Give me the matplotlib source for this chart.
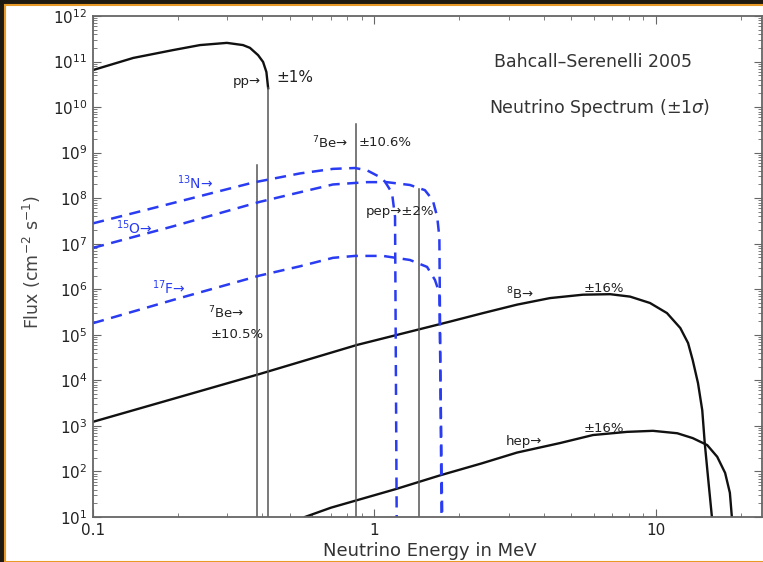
import numpy as np
import matplotlib
matplotlib.use('Agg')
import matplotlib.pyplot as plt
from matplotlib.patches import Rectangle
from matplotlib.ticker import FixedLocator, FixedFormatter, LogLocator, NullFormatter

# solar neutrino spectra (energy in MeV, flux in cm^-2 s^-1)
pp_E = [0.1, 0.139, 0.192, 0.240, 0.299, 0.341, 0.361, 0.386, 0.402, 0.413, 0.419]
pp_F = [6.5e10, 1.2e11, 1.78e11, 2.3e11, 2.57e11, 2.3e11, 2.0e11, 1.38e11, 9.8e10, 5.9e10, 2.6e10]

n13_E = [0.1, 0.192, 0.37, 0.544, 0.712, 0.852, 0.940, 1.046, 1.09, 1.154, 1.183, 1.199]
n13_F = [2.8e7, 7.8e7, 2.2e8, 3.5e8, 4.4e8, 4.6e8, 4.1e8, 2.9e8, 2.3e8, 1.3e8, 3.9e7, 10]

o15_E = [0.1, 0.192, 0.391, 0.544, 0.712, 0.940, 1.105, 1.336, 1.51, 1.61, 1.67, 1.70, 1.73]
o15_F = [8.1e6, 2.4e7, 8.3e7, 1.35e8, 2.0e8, 2.25e8, 2.25e8, 1.95e8, 1.5e8, 9.1e7, 3.9e7, 1.4e7, 10]

f17_E = [0.1, 0.192, 0.391, 0.544, 0.712, 0.852, 1.072, 1.336, 1.537, 1.64, 1.70, 1.74]
f17_F = [1.8e5, 5.8e5, 2.0e6, 3.2e6, 4.9e6, 5.4e6, 5.4e6, 4.4e6, 3.1e6, 1.6e6, 8.3e5, 10]

b8_E = [0.1, 0.2, 0.391, 0.867, 1.854, 2.43, 3.21, 4.20, 5.50, 6.87, 8.09, 9.52, 10.94,
        12.2, 13.0, 13.5, 14.1, 14.6, 14.9, 15.3, 15.8]
b8_F = [1.23e3, 4.2e3, 1.38e4, 6.0e4, 1.95e5, 3.0e5, 4.6e5, 6.4e5, 7.6e5, 7.8e5, 6.9e5, 5.0e5,
        3.0e5, 1.41e5, 6.6e4, 2.8e4, 8.7e3, 2.2e3, 4.2e2, 76, 10]

hep_E = [0.566, 0.7, 0.859, 1.19, 1.72, 2.4, 3.21, 4.56, 5.97, 7.89, 9.75, 11.9, 13.5, 15.2,
         16.5, 17.6, 18.3, 18.6]
hep_F = [10, 16, 23, 41, 83, 150, 260, 420, 630, 740, 780, 690, 540, 380, 210, 93, 34, 10]

# line sources (and the pp cut-off) drawn as vertical lines
line_E = [0.384, 0.42, 0.862, 1.442]
line_top = [5.4e8, 2.6e10, 4.3e9, 1.6e8]

fig = plt.figure(figsize=(7.63, 5.62), dpi=100)
fig.patch.set_facecolor('#1e1a12')
fig.patches.append(Rectangle((5 / 763, 0), 1, (562 - 5) / 562, transform=fig.transFigure,
                             facecolor='white', edgecolor='#e89a28', lw=1.5, zorder=-10))

ax = fig.add_axes([93 / 763, 45 / 562, 669 / 763, 501 / 562])
ax.set_zorder(2)
ax.set_xscale('log')
ax.set_yscale('log')
ax.set_xlim(0.1, 23.8)
ax.set_ylim(10, 1e12)

black = '#111111'
blue = '#2a3cf2'
dash = (0, (4.5, 3))

ax.plot(pp_E, pp_F, color=black, lw=1.7, solid_joinstyle='round')
ax.plot(b8_E, b8_F, color=black, lw=1.7, solid_joinstyle='round')
ax.plot(hep_E, hep_F, color=black, lw=1.7, solid_joinstyle='round')
for e, top in zip(line_E, line_top):
    ax.plot([e, e], [10, top], color='#555555', lw=1.1)

ax.plot(n13_E, n13_F, color=blue, lw=1.8, ls=dash)
ax.plot(o15_E, o15_F, color=blue, lw=1.8, ls=dash)
ax.plot(f17_E, f17_F, color=blue, lw=1.8, ls=dash)

# axes styling
for s in ax.spines.values():
    s.set_color('#666666')
    s.set_linewidth(1.3)
ax.tick_params(which='both', direction='in', top=True, right=True, colors='#666666',
               labelcolor='#222222')
ax.tick_params(which='major', length=6, labelsize=11, pad=4)
ax.tick_params(which='minor', length=3)
ax.xaxis.set_major_locator(FixedLocator([0.1, 1, 10]))
ax.xaxis.set_major_formatter(FixedFormatter(['0.1', '1', '10']))
ax.xaxis.set_minor_locator(LogLocator(base=10, subs=np.arange(2, 10)))
ax.xaxis.set_minor_formatter(NullFormatter())
ax.yaxis.set_major_locator(FixedLocator([10.0 ** k for k in range(1, 13)]))
ax.yaxis.set_minor_locator(LogLocator(base=10, subs=np.arange(2, 10), numticks=30))
ax.yaxis.set_minor_formatter(NullFormatter())

fig.text(32 / 763, 1 - 262 / 562, 'Flux (cm$^{-2}$ s$^{-1}$)', rotation=90,
         ha='center', va='center', fontsize=12.5, color='#444444')
fig.text(430 / 763, 1 - 551 / 562, 'Neutrino Energy in MeV', ha='center', va='center',
         fontsize=13, color='#333333')

fig.text(593 / 763, 1 - 62 / 562, 'Bahcall\u2013Serenelli 2005', ha='center', va='center',
         fontsize=12.5, color='#333333')
fig.text(600 / 763, 1 - 108 / 562, 'Neutrino Spectrum (\u00b11$\\sigma$)', ha='center',
         va='center', fontsize=12.5, color='#333333')

def lab(x, y, s, color='#222222', size=9.5, ha='left'):
    fig.text(x / 763, 1 - y / 562, s, ha=ha, va='center', fontsize=size, color=color,
             zorder=5)

lab(233, 82, 'pp\u2192')
lab(276, 77, '\u00b11%', size=11)
lab(312, 143, '$^{7}$Be\u2192')
lab(359, 143, '\u00b110.6%')
lab(177, 183, '$^{13}$N\u2192', color=blue, size=10)
lab(116, 228, '$^{15}$O\u2192', color=blue, size=10)
lab(152, 288, '$^{17}$F\u2192', color=blue, size=10)
lab(208, 313, '$^{7}$Be\u2192')
lab(211, 334, '\u00b110.5%')
lab(366, 212, 'pep\u2192\u00b12%')
lab(506, 294, '$^{8}$B\u2192')
lab(584, 288, '\u00b116%')
lab(506, 442, 'hep\u2192')
lab(584, 429, '\u00b116%')

fig.savefig('out.png', dpi=100, facecolor=fig.get_facecolor())
